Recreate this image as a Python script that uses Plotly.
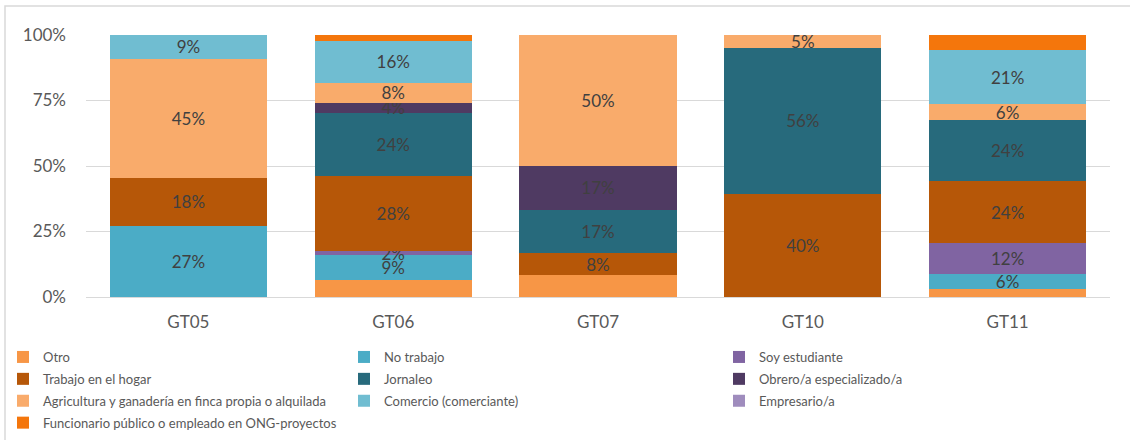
import plotly.graph_objects as go

groups = ["GT05", "GT06", "GT07", "GT10", "GT11"]

series_names = [
    "Otro",
    "No trabajo",
    "Soy estudiante",
    "Trabajo en el hogar",
    "Jornaleo",
    "Obrero/a especializado/a",
    "Agricultura y ganadería en finca propia o alquilada",
    "Comercio (comerciante)",
    "Empresario/a",
    "Funcionario público o empleado en ONG-proyectos",
]

# share of respondents (%) per group, bottom to top of the stack
otro = [0, 6.6, 8.33, 0, 2.94]
no_trabajo = [27.27, 9.3, 0, 0, 5.88]
soy_estudiante = [0, 1.7, 0, 0, 11.76]
trabajo_hogar = [18.18, 28.4, 8.33, 39.5, 23.53]
jornaleo = [0, 24.3, 16.67, 55.6, 23.53]
obrero = [0, 3.7, 16.67, 0, 0]
agricultura = [45.45, 7.8, 50.0, 4.9, 5.88]
comercio = [9.09, 15.8, 0, 0, 20.59]
empresario = [0, 0, 0, 0, 0]
funcionario = [0, 2.4, 0, 0, 5.88]

series_values = [otro, no_trabajo, soy_estudiante, trabajo_hogar, jornaleo,
                 obrero, agricultura, comercio, empresario, funcionario]

colors = ["#F79646", "#4BACC6", "#8064A2", "#B65708", "#276A7C",
          "#4F3A62", "#F9AB6B", "#70BDD1", "#9F8CBD", "#F4760C"]

# which series get data labels (Excel showed none for Otro / Funcionario)
show_labels = [False, True, True, True, True, True, True, True, True, False]

# legend column each series sits in
legend_col = ["legend", "legend2", "legend3", "legend", "legend2",
              "legend3", "legend", "legend2", "legend3", "legend"]

FONT = "Lato"
W, H = 1130, 440

fig = go.Figure()
for name, vals, col, lab, leg in zip(series_names, series_values, colors, show_labels, legend_col):
    text = [f"{v:.0f}%" if (lab and v > 0) else "" for v in vals]
    fig.add_trace(
        go.Bar(
            name=name,
            x=groups,
            y=[v / 100 for v in vals],
            marker=dict(color=col, line=dict(width=0)),
            text=text,
            textposition="inside",
            insidetextanchor="middle",
            textangle=0,
            textfont=dict(family=FONT, size=17, color="#404040"),
            hoverinfo="name+y",
            legend=leg,
            legendgroup=name,
        )
    )

leg_common = dict(
    orientation="v",
    xref="container",
    yref="container",
    yanchor="top",
    y=1 - 342 / H,
    xanchor="left",
    font=dict(family=FONT, size=13, color="#595959"),
    bgcolor="rgba(0,0,0,0)",
    traceorder="grouped",
    tracegroupgap=2,
)

fig.update_layout(
    width=W,
    height=H,
    barmode="stack",
    bargap=0.233,
    plot_bgcolor="white",
    paper_bgcolor="white",
    margin=dict(l=86, r=20, t=35, b=143, autoexpand=False),
    font=dict(family=FONT, color="#595959"),
    uniformtext=dict(minsize=17, mode="show"),
    showlegend=True,
    legend=dict(leg_common, x=3 / W),
    legend2=dict(leg_common, x=344 / W),
    legend3=dict(leg_common, x=719 / W),
    xaxis=dict(
        tickfont=dict(family=FONT, size=17, color="#595959"),
        showline=False,
        ticks="",
        ticklabelstandoff=13,
        automargin=False,
    ),
    yaxis=dict(
        range=[0, 1],
        tickvals=[0, 0.25, 0.5, 0.75, 1],
        tickformat=".0%",
        tickfont=dict(family=FONT, size=17, color="#595959"),
        gridcolor="#D9D9D9",
        gridwidth=1,
        zeroline=True,
        zerolinecolor="#D9D9D9",
        zerolinewidth=1,
        ticks="",
        ticklabelstandoff=19,
        automargin=False,
    ),
    shapes=[
        dict(
            type="rect",
            xref="paper",
            yref="paper",
            x0=(5 - 86) / 1024,
            x1=(1140 - 86) / 1024,
            y0=(297 - 450) / 262,
            y1=(297 - 6) / 262,
            line=dict(color="#D9D9D9", width=1.5),
            fillcolor="rgba(0,0,0,0)",
            layer="below",
        )
    ],
)

fig.write_html(
    "out.html",
    config={"displayModeBar": False},
    post_script="document.body.style.margin='0';document.body.style.overflow='hidden';",
)
